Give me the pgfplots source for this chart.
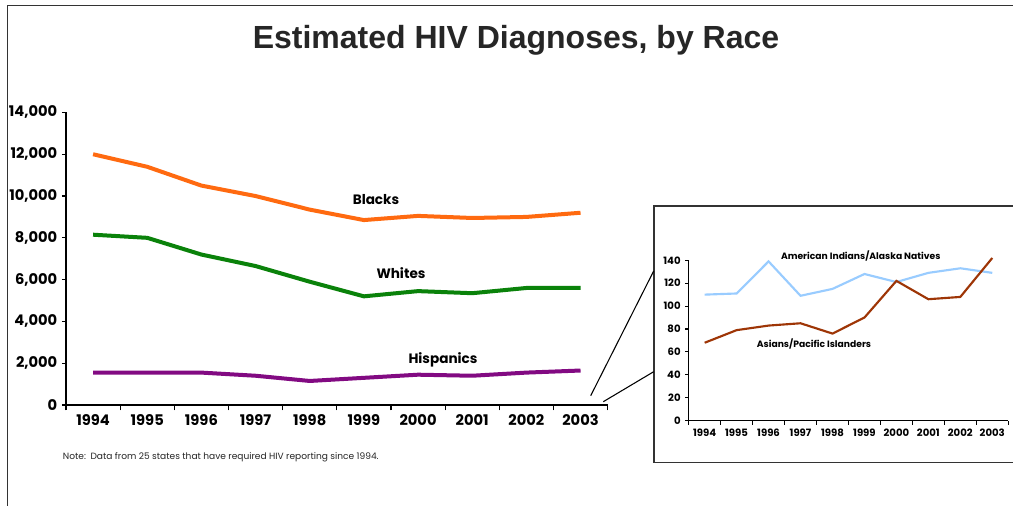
\documentclass[border=0pt]{standalone}
\usepackage{fontspec}
\setmainfont{Poppins}
\newfontfamily\arialfont{Liberation Sans}
\usepackage{pgfplots}
\pgfplotsset{compat=1.18}
\definecolor{cOrange}{HTML}{FF6A10}
\definecolor{cGreen}{HTML}{0A820A}
\definecolor{cPurple}{HTML}{820A82}
\definecolor{cBlue}{HTML}{99CCFF}
\definecolor{cBrown}{HTML}{9E3506}
\definecolor{cFrame}{HTML}{333333}

\pgfplotstableread{
x Blacks Whites Hispanics
0 12000 8150 1550
1 11400 8000 1550
2 10500 7200 1550
3 10000 6650 1400
4 9350 5900 1150
5 8850 5200 1300
6 9050 5450 1450
7 8950 5350 1400
8 9000 5600 1550
9 9200 5600 1650
}\maindata

\pgfplotstableread{
x AIAN API
0 110 68
1 111 79
2 139 83
3 109 85
4 115 76
5 128 90
6 121 122
7 129 106
8 133 108
9 129 142
}\insetdata

\begin{document}
\begin{tikzpicture}[x=0.75pt,y=0.75pt]
\useasboundingbox (0,0) rectangle (1013,506);
\fill[white] (0,0) rectangle (1013,506);
% outer frame
\draw[line width=1.1pt, cFrame] (7.5,-5) -- (7.5,500.5) -- (1030,500.5);
% inset box
\draw[line width=1.1pt, cFrame] (1030,43.5) -- (654,43.5) -- (654,300) -- (1030,300);
% title
\node[font=\arialfont\bfseries\fontsize{24}{28}\selectfont, text=black!85, anchor=base] at (516,457.5) {Estimated HIV Diagnoses, by Race};

% main axis
\begin{axis}[
  at={(49.5pt,75.75pt)}, anchor=south west,
  scale only axis, width=406.2pt, height=219.4pt,
  xmin=-0.5, xmax=9.5, ymin=0, ymax=14000,
  axis x line*=bottom, axis y line*=left,
  axis line style={-, line width=1.1pt, black},
  xtick={0,...,9},
  xticklabels={1994,1995,1996,1997,1998,1999,2000,2001,2002,2003},
  major x tick style={draw=none},
  minor xtick={-0.5,0.5,...,9.5},
  minor tick length=4pt,
  ytick={0,2000,...,14000},
  scaled y ticks=false,
  yticklabel style={/pgf/number format/.cd, 1000 sep={,}},
  /pgf/number format/assume math mode=true,
  tick align=outside,
  major tick length=3pt,
  tick style={line width=0.9pt, black},
  ticklabel style={font=\bfseries\fontsize{11}{13}\selectfont},
  xticklabel style={yshift=-1pt},
  clip=false,
]
\addplot[cOrange, line width=3pt] table[x=x, y=Blacks] {\maindata};
\addplot[cGreen, line width=3pt] table[x=x, y=Whites] {\maindata};
\addplot[cPurple, line width=3pt] table[x=x, y=Hispanics] {\maindata};
\end{axis}

% inset axis
\begin{axis}[
  at={(516.5pt,64.0pt)}, anchor=south west,
  scale only axis, width=239.7pt, height=120.3pt,
  xmin=-0.5, xmax=9.5, ymin=0, ymax=140,
  axis x line*=bottom, axis y line*=left,
  axis line style={-, line width=1pt, black},
  xtick={0,...,9},
  xticklabels={1994,1995,1996,1997,1998,1999,2000,2001,2002,2003},
  major x tick style={draw=none},
  minor xtick={-0.5,0.5,...,9.5},
  minor tick length=3pt,
  ytick={0,20,...,140},
  /pgf/number format/assume math mode=true,
  tick align=outside,
  major tick length=2.5pt,
  tick style={line width=0.8pt, black},
  ticklabel style={font=\bfseries\fontsize{7.6}{9}\selectfont},
  clip=false,
]
\addplot[cBlue, line width=1.6pt] table[x=x, y=AIAN] {\insetdata};
\addplot[cBrown, line width=1.6pt] table[x=x, y=API] {\insetdata};
\end{axis}

% connector lines
\draw[line width=0.8pt] (590.7,110.3) -- (653.7,235);
\draw[line width=0.8pt] (603.3,104.3) -- (653.7,134.3);

% series labels
\node[font=\bfseries\fontsize{10.2}{12}\selectfont] at (376,306.5) {Blacks};
\node[font=\bfseries\fontsize{10.2}{12}\selectfont] at (401,232.5) {Whites};
\node[font=\bfseries\fontsize{10.2}{12}\selectfont] at (443,146.5) {Hispanics};
\node[font=\bfseries\fontsize{6.9}{8}\selectfont] at (860.7,250.5) {American Indians/Alaska Natives};
\node[font=\bfseries\fontsize{6.9}{8}\selectfont] at (814,162.5) {Asians/Pacific Islanders};

% note
\node[font=\fontsize{6.8}{8}\selectfont, anchor=west, text=black!85, inner sep=0pt] at (62.7,49) {Note:\enspace Data from 25 states that have required HIV reporting since 1994.};
\end{tikzpicture}
\end{document}
